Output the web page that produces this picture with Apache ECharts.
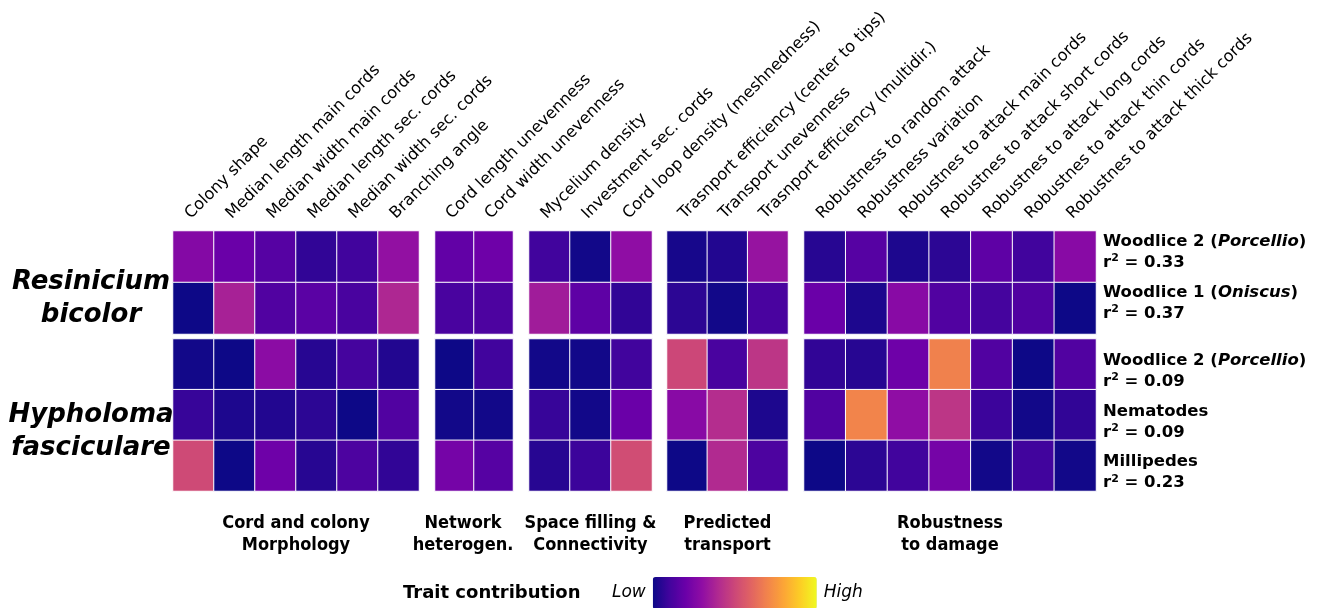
<!DOCTYPE html>
<html>
<head>
<meta charset="utf-8">
<script src="https://cdn.jsdelivr.net/npm/echarts@6/dist/echarts.min.js"></script>
<style>
html,body{margin:0;padding:0;background:#fff;}
#chart{width:1318px;height:608px;}
</style>
</head>
<body>
<div id="chart"></div>
<script>
// ---------- DATA ----------
const morphologyTraits = ['Colony shape','Median length main cords','Median width main cords','Median length sec. cords','Median width sec. cords','Branching angle'];
const heterogeneityTraits = ['Cord length unevenness','Cord width unevenness'];
const spaceTraits = ['Mycelium density','Investment sec. cords','Cord loop density (meshnedness)'];
const transportTraits = ['Trasnport efficiency (center to tips)','Transport unevenness','Trasnport efficiency (multidir.)'];
const robustnessTraits = ['Robustness to random attack','Robustness variation','Robustnes to attack main cords','Robustnes to attack short cords','Robustnes to attack long cords','Robustnes to attack thin cords','Robustnes to attack thick cords'];
const groupTitles = ['Cord and colony\nMorphology','Network\nheterogen.','Space filling &\nConnectivity','Predicted\ntransport','Robustness\nto damage'];

const speciesNames = ['Resinicium\nbicolor','Hypholoma\nfasciculare'];

const resRowNames = ['Woodlice 2','Woodlice 1'];
const resRowGenus = ['Porcellio','Oniscus'];
const resR2 = ['0.33','0.37'];
const hypRowNames = ['Woodlice 2','Nematodes','Millipedes'];
const hypRowGenus = ['Porcellio','',''];
const hypR2 = ['0.09','0.09','0.23'];

// trait contribution values (21 traits, in column order)
const resPorcellio  = [0.27,0.20,0.15,0.07,0.10,0.31, 0.18,0.21, 0.10,0.01,0.30, 0.02,0.04,0.32, 0.05,0.15,0.03,0.06,0.17,0.10,0.28];
const resOniscus    = [0.00,0.37,0.14,0.16,0.12,0.39, 0.12,0.13, 0.35,0.17,0.07, 0.06,0.01,0.12, 0.20,0.03,0.28,0.14,0.11,0.14,0.00];
const hypPorcellio  = [0.01,0.00,0.29,0.05,0.11,0.04, 0.00,0.10, 0.01,0.01,0.10, 0.50,0.12,0.44, 0.07,0.05,0.21,0.69,0.14,0.00,0.14];
const hypNematodes  = [0.08,0.03,0.04,0.06,0.00,0.14, 0.01,0.01, 0.08,0.01,0.20, 0.28,0.41,0.03, 0.14,0.70,0.30,0.44,0.09,0.01,0.07];
const hypMillipedes = [0.51,0.00,0.21,0.05,0.13,0.07, 0.23,0.15, 0.05,0.09,0.52, 0.00,0.40,0.13, 0.00,0.06,0.10,0.23,0.01,0.10,0.01];

const plasma = ['#0d0887','#41049d','#6a00a8','#8f0da4','#b12a90','#cc4778','#e16462','#f2844b','#fca636','#fcce25','#f0f921'];

// ---------- BUILD ----------
const traitGroups = [morphologyTraits, heterogeneityTraits, spaceTraits, transportTraits, robustnessTraits];
const rowGroups = [
  {names: resRowNames, genus: resRowGenus, r2: resR2, values: [resPorcellio, resOniscus]},
  {names: hypRowNames, genus: hypRowGenus, r2: hypR2, values: [hypPorcellio, hypNematodes, hypMillipedes]}
];

// layout (pixels)
const colLeft  = [173, 435, 529, 667, 804];
const colWidth = [246, 78, 123, 121, 292];
const rowTop    = [231, 339];
const rowHeight = [103, 152];

const FONT = 'DejaVu Sans';
const grids = [], xAxes = [], yAxes = [], series = [];

function rowKey(rg, i){
  const g = rowGroups[rg];
  return g.names[i] + (g.genus[i] ? ' (' + g.genus[i] + ')' : '') + '|' + i;
}

rowGroups.forEach((rg, ri) => {
  let offset = 0;
  traitGroups.forEach((traits, ci) => {
    const gi = grids.length;
    grids.push({left: colLeft[ci], top: rowTop[ri], width: colWidth[ci], height: rowHeight[ri], containLabel: false});
    const isTop = ri === 0, isBottom = ri === rowGroups.length - 1;
    const x = {
      type: 'category', gridIndex: gi, data: traits,
      position: isTop ? 'top' : 'bottom',
      axisLine: {show: false}, axisTick: {show: false}, splitLine: {show: false},
      axisLabel: {
        show: isTop, interval: 0, rotate: -45, margin: 9,
        align: 'left', verticalAlign: 'bottom',
        fontFamily: FONT, fontSize: 16.2, color: '#000'
      }
    };
    if (isBottom) {
      x.name = groupTitles[ci];
      x.nameLocation = 'middle';
      x.nameGap = 21;
      x.nameTextStyle = {
        fontFamily: 'DejaVu Sans Condensed', fontWeight: 'bold', fontSize: 18, lineHeight: 22,
        color: '#000', align: 'center', verticalAlign: 'top',
        padding: ci === 1 ? [0, 22, 0, 0] : 0
      };
    }
    xAxes.push(x);
    const keys = rg.names.map((n, i) => rowKey(ri, i));
    const y = {
      type: 'category', gridIndex: gi, data: keys, inverse: true,
      position: ci === 4 ? 'right' : 'left',
      axisLine: {show: false}, axisTick: {show: false}, splitLine: {show: false},
      axisLabel: {
        show: ci === 4, margin: 7, align: 'left',
        padding: ri === 0 ? [0, 0, 10, 0] : [14, 0, 0, 0],
        formatter: function (value) {
          const i = keys.indexOf(value);
          const genus = rg.genus[i];
          const first = genus
            ? '{b|' + rg.names[i] + ' (}{bi|' + genus + '}{b|)}'
            : '{b|' + rg.names[i] + '}';
          return first + '\n{b|r}{sup|2}{b| = ' + rg.r2[i] + '}';
        },
        rich: {
          b:  {fontFamily: FONT, fontWeight: 'bold', fontSize: 16.5, color: '#000', lineHeight: 21},
          bi: {fontFamily: FONT, fontWeight: 'bold', fontStyle: 'italic', fontSize: 16.5, color: '#000', lineHeight: 21},
          sup: {fontFamily: FONT, fontWeight: 'bold', fontSize: 11, color: '#000', lineHeight: 21, padding: [0, 0, 9, 0]}
        }
      }
    };
    if (ci === 0) {
      y.name = '\n' + speciesNames[ri];
      y.nameLocation = 'middle';
      y.nameRotate = 0;
      y.nameGap = 82;
      y.nameTextStyle = {
        fontFamily: FONT, fontWeight: 'bold', fontStyle: 'italic', fontSize: 26, lineHeight: 33,
        color: '#000', align: 'center', verticalAlign: 'middle',
        padding: ri === 0 ? [4, 0, 0, 0] : 0
      };
    }
    yAxes.push(y);
    const data = [];
    rg.values.forEach((row, yi) => {
      traits.forEach((t, xi) => data.push([xi, yi, row[offset + xi]]));
    });
    series.push({
      type: 'heatmap', xAxisIndex: gi, yAxisIndex: gi, data: data,
      itemStyle: {borderColor: '#ffffff', borderWidth: 1},
      emphasis: {disabled: true}
    });
    offset += traits.length;
  });
});

const chart = echarts.init(document.getElementById('chart'), null, {renderer: 'canvas'});
chart.setOption({
  animation: false,
  backgroundColor: '#ffffff',
  title: {
    text: 'Trait contribution', left: 403, top: 584, padding: 0,
    textStyle: {fontFamily: FONT, fontWeight: 'bold', fontSize: 18, color: '#000'}
  },
  grid: grids, xAxis: xAxes, yAxis: yAxes,
  visualMap: {
    type: 'continuous', min: 0, max: 1, calculable: false,
    orient: 'horizontal', left: 612, top: 577, padding: 0,
    itemWidth: 32, itemHeight: 164,
    text: ['High', 'Low'], textGap: 7,
    textStyle: {fontFamily: FONT, fontStyle: 'italic', fontSize: 17, color: '#000'},
    inRange: {color: plasma},
    seriesIndex: series.map((s, i) => i)
  },
  series: series
});
</script>
</body>
</html>
